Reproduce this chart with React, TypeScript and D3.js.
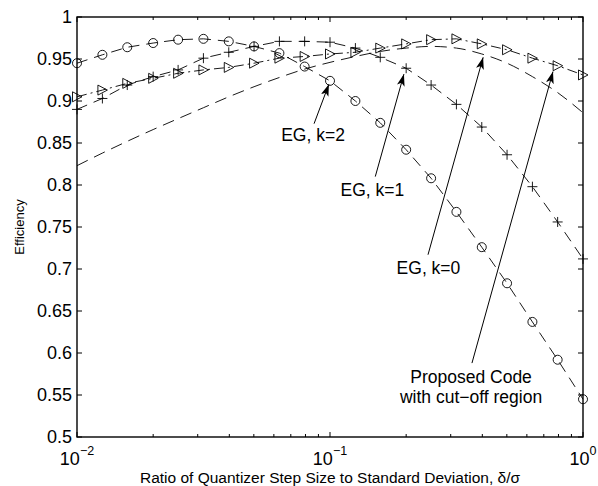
import * as d3 from "d3";

// step size ratio (log spaced sample points)
const ratios = [0.01, 0.0126, 0.0158, 0.02, 0.0251, 0.0316, 0.0398, 0.0501, 0.0631, 0.0794,
    0.1, 0.126, 0.158, 0.2, 0.251, 0.316, 0.398, 0.501, 0.631, 0.794, 1];

const egK2 = [0.945, 0.955, 0.964, 0.969, 0.973, 0.974, 0.971, 0.965, 0.957, 0.941, 0.924,
    0.900, 0.874, 0.842, 0.808, 0.768, 0.726, 0.683, 0.637, 0.592, 0.545];
const egK1 = [0.890, 0.903, 0.919, 0.929, 0.937, 0.951, 0.958, 0.965, 0.971, 0.971, 0.970,
    0.963, 0.952, 0.939, 0.919, 0.896, 0.869, 0.836, 0.798, 0.756, 0.712];
const proposed = [0.905, 0.913, 0.921, 0.927, 0.933, 0.937, 0.940, 0.945, 0.951, 0.953, 0.956,
    0.958, 0.963, 0.968, 0.973, 0.974, 0.968, 0.961, 0.951, 0.942, 0.931];
const egK0 = [0.823, 0.838, 0.852, 0.866, 0.879, 0.892, 0.905, 0.917, 0.928, 0.938, 0.946,
    0.953, 0.959, 0.963, 0.965, 0.963, 0.956, 0.945, 0.929, 0.910, 0.886];

const yTicks = [0.5, 0.55, 0.6, 0.65, 0.7, 0.75, 0.8, 0.85, 0.9, 0.95, 1];
const xMajor = [0.01, 0.1, 1];
const xExp = ["\u22122", "\u22121", "0"];

// annotation: label lines, label anchor, arrow start, arrow tip (data coords)
const notes = [
    { lines: ["EG, k=2"], tx: 0.0857, ty: 0.852, sx: 0.0865, sy: 0.873, ex: 0.099, ey: 0.920 },
    { lines: ["EG, k=1"], tx: 0.147, ty: 0.787, sx: 0.151, sy: 0.810, ex: 0.196, ey: 0.932 },
    { lines: ["EG, k=0"], tx: 0.245, ty: 0.694, sx: 0.244, sy: 0.717, ex: 0.403, ey: 0.952 },
    { lines: ["Proposed Code", "with cut\u2212off region"], tx: 0.361, ty: 0.564, sx: 0.364, sy: 0.588, ex: 0.761, ey: 0.935 },
];

const W = 598, H = 486;
const margin = { top: 17, right: 15, bottom: 49, left: 77 };
const font = "'Liberation Sans', Arial, Helvetica, sans-serif";

export default function App() {
    const x = d3.scaleLog().domain([0.01, 1]).range([margin.left, W - margin.right]);
    const y = d3.scaleLinear().domain([0.5, 1]).range([H - margin.bottom, margin.top]);
    const x0 = margin.left, x1 = W - margin.right, y0 = H - margin.bottom, y1 = margin.top;

    const line = d3.line<number>().x((_, i) => x(ratios[i])).y(d => y(d));
    const smooth = d3.line<number>().x((_, i) => x(ratios[i])).y(d => y(d)).curve(d3.curveMonotoneX);

    const minor: number[] = [];
    [0.01, 0.1].forEach(b => { for (let k = 2; k <= 9; k++) minor.push(b * k); });

    const circles = egK2.map((d, i) => <circle key={i} cx={x(ratios[i])} cy={y(d)} r={4.5} fill="none" stroke="#000" strokeWidth={0.9} />);
    const pluses = egK1.map((d, i) => {
        const px = x(ratios[i]), py = y(d);
        return <path key={i} d={`M${px - 5},${py}H${px + 5}M${px},${py - 5}V${py + 5}`} stroke="#000" strokeWidth={0.9} />;
    });
    const tris = proposed.map((d, i) => {
        const px = x(ratios[i]), py = y(d);
        return <path key={i} d={`M${px - 4.5},${py - 5}L${px + 5},${py}L${px - 4.5},${py + 5}Z`} fill="none" stroke="#000" strokeWidth={0.9} />;
    });

    return (
        <div style={{ position: "absolute", left: 0, top: 0 }}>
            <svg width={W} height={H} style={{ display: "block", background: "#fff" }} fontFamily={font}>
                {/* series */}
                <path d={smooth(egK0) ?? ""} fill="none" stroke="#000" strokeWidth={0.9} strokeDasharray="12,7" />
                <path d={line(egK2) ?? ""} fill="none" stroke="#000" strokeWidth={0.9} strokeDasharray="11,7" />
                <path d={line(egK1) ?? ""} fill="none" stroke="#000" strokeWidth={0.9} strokeDasharray="11,7" />
                <path d={line(proposed) ?? ""} fill="none" stroke="#000" strokeWidth={0.9} strokeDasharray="10,4,2,4" />
                {circles}
                {pluses}
                {tris}

                {/* axes box and ticks */}
                <rect x={x0} y={y1} width={x1 - x0} height={y0 - y1} fill="none" stroke="#000" strokeWidth={1.4} />
                {yTicks.map(t => (
                    <g key={t}>
                        <line x1={x0} x2={x0 + 5} y1={y(t)} y2={y(t)} stroke="#000" strokeWidth={1} />
                        <line x1={x1} x2={x1 - 5} y1={y(t)} y2={y(t)} stroke="#000" strokeWidth={1} />
                        <text x={x0 - 5} y={y(t)} dy="0.35em" textAnchor="end" fontSize={18}>{d3.format("")(t)}</text>
                    </g>
                ))}
                {minor.map(t => (
                    <g key={t}>
                        <line x1={x(t)} x2={x(t)} y1={y0} y2={y0 - 3} stroke="#000" strokeWidth={1} />
                        <line x1={x(t)} x2={x(t)} y1={y1} y2={y1 + 3} stroke="#000" strokeWidth={1} />
                    </g>
                ))}
                {xMajor.map((t, i) => (
                    <g key={t}>
                        <line x1={x(t)} x2={x(t)} y1={y0} y2={y0 - 5} stroke="#000" strokeWidth={1} />
                        <line x1={x(t)} x2={x(t)} y1={y1} y2={y1 + 5} stroke="#000" strokeWidth={1} />
                        <text x={x(t)} y={y0 + 28} textAnchor="middle" fontSize={18}>
                            10<tspan dy={-10} fontSize={12.5}>{xExp[i]}</tspan>
                        </text>
                    </g>
                ))}

                {/* axis labels */}
                <text x={(x0 + x1) / 2} y={H - 3} textAnchor="middle" fontSize={15.5}>
                    Ratio of Quantizer Step Size to Standard Deviation, δ/σ
                </text>
                <text transform={`translate(24,${(y0 + y1) / 2}) rotate(-90)`} textAnchor="middle" fontSize={13}>Efficiency</text>

                {/* annotations */}
                <defs>
                    <marker id="head" viewBox="0 0 12 8" refX={12} refY={4} markerWidth={12} markerHeight={8} markerUnits="userSpaceOnUse" orient="auto">
                        <path d="M0,0L12,4L0,8L3,4Z" fill="#000" />
                    </marker>
                </defs>
                {notes.map((n, i) => (
                    <g key={i}>
                        <line x1={x(n.sx)} y1={y(n.sy)} x2={x(n.ex)} y2={y(n.ey)} stroke="#000" strokeWidth={1} markerEnd="url(#head)" />
                        <text x={x(n.tx)} y={y(n.ty)} textAnchor="middle" fontSize={17.5}>
                            {n.lines.map((l, j) => <tspan key={j} x={x(n.tx)} dy={j === 0 ? 0 : 20}>{l}</tspan>)}
                        </text>
                    </g>
                ))}
            </svg>
        </div>
    );
}
